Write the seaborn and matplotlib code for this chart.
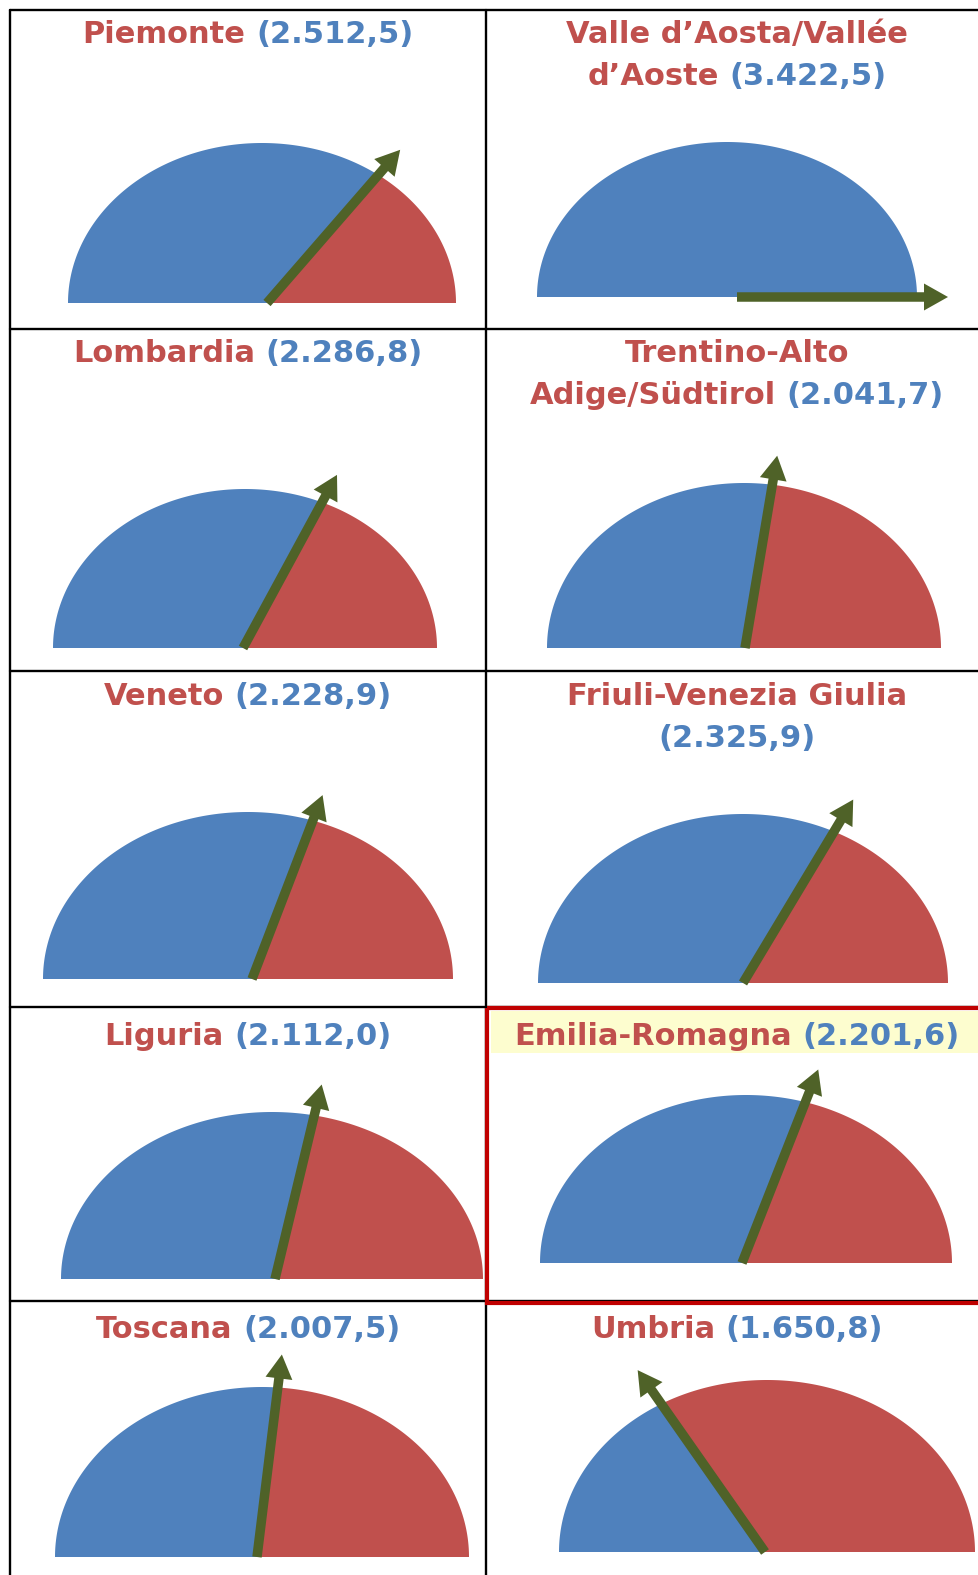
import numpy as np
import matplotlib
matplotlib.use("Agg")
import matplotlib.pyplot as plt
import seaborn as sns
from matplotlib.patches import Rectangle

# ---------- DATA ----------
regions = [
    "Piemonte", "Valle d’Aosta/Vallée\nd’Aoste",
    "Lombardia", "Trentino-Alto\nAdige/Südtirol",
    "Veneto", "Friuli-Venezia Giulia\n",
    "Liguria", "Emilia-Romagna",
    "Toscana", "Umbria",
]
values = [2512.5, 3422.5, 2286.8, 2041.7, 2228.9, 2325.9, 2112.0, 2201.6, 2007.5, 1650.8]
# needle direction (degrees, 0 = pointing right)
needle_deg = [49.0, 0.0, 61.5, 80.5, 69.0, 59.0, 76.5, 68.5, 83.0, 125.0]
highlight = "Emilia-Romagna"

# ---------- LAYOUT (pixels) ----------
W_PX, H_PX = 979, 1575
row_lines = [10, 329, 671, 1007, 1301]
col_lines = [10, 486]
col_center = [248, 737]
title_base = [43, 362, 705, 1045, 1338]
line_gap = 42
gauge_cx = [262, 727, 245, 744, 248, 743, 272, 746, 262, 767]
gauge_by = [303, 297, 648, 648, 979, 983, 1279, 1263, 1557, 1552]
gauge_rx = [194, 190, 192, 197, 205, 205, 211, 206, 207, 208]
gauge_ry = [160, 155, 159, 165, 167, 169, 167, 168, 170, 172]
needle_x = [267, 737, 243, 745, 252, 743, 275, 742, 257, 765]
needle_len = [203, 211, 197, 195, 197, 214, 200, 208, 204, 222]

BLUE = "#4F81BD"
RED = "#C0504D"
GREEN = "#4F6228"

sns.set_style("white")
plt.rcParams["font.family"] = ["DejaVu Sans"]


def fmt_it(v):
    s = f"{v:,.1f}"
    return s.replace(",", "X").replace(".", ",").replace("X", ".")


fig = plt.figure(figsize=(W_PX / 100, H_PX / 100), dpi=100)
ax = fig.add_axes([0, 0, 1, 1])
ax.set_xlim(0, W_PX)
ax.set_ylim(H_PX, 0)
ax.axis("off")
renderer = fig.canvas.get_renderer()
txt_kw = dict(fontsize=22, fontweight="bold", va="baseline")


def title_line(xc, y, red, blue):
    full = (red + " " + blue).strip()
    probe = ax.text(0, 0, full, **txt_kw)
    w = probe.get_window_extent(renderer).width
    probe.remove()
    x0 = xc - w / 2
    if red.strip():
        ax.text(x0, y, red, ha="left", color=RED, **txt_kw)
    if blue:
        ax.text(x0 + w, y, blue, ha="right", color=BLUE, **txt_kw)


for i, (name, val, deg) in enumerate(zip(regions, values, needle_deg)):
    row, col = divmod(i, 2)
    xc = col_center[col]

    if name == highlight:
        ax.add_patch(Rectangle((491, row_lines[row] + 4), W_PX - 491, 42,
                               color="#FDFDCF", lw=0, zorder=1))

    lines = name.split("\n")
    for k, ln in enumerate(lines):
        y = title_base[row] + k * line_gap
        blue = f"({fmt_it(val)})" if k == len(lines) - 1 else ""
        title_line(xc, y, ln, blue)

    # half ellipse split along the needle
    cx, by, rx, ry = gauge_cx[i], gauge_by[i], gauge_rx[i], gauge_ry[i]
    nx = needle_x[i]
    th = np.radians(deg)
    tt = np.linspace(0, np.pi, 2000)
    phi = np.arctan2(ry * np.sin(tt), cx + rx * np.cos(tt) - nx)
    t_split = np.interp(th, phi, tt)
    t_blue = np.linspace(t_split, np.pi, 200)
    t_red = np.linspace(0, t_split, 200)
    ax.fill(np.r_[nx, cx + rx * np.cos(t_blue)], np.r_[by, by - ry * np.sin(t_blue)],
            color=BLUE, lw=0, zorder=2)
    if t_split > 0:
        ax.fill(np.r_[nx, cx + rx * np.cos(t_red)], np.r_[by, by - ry * np.sin(t_red)],
                color=RED, lw=0, zorder=2)

    L = needle_len[i]
    ax.arrow(nx, by, L * np.cos(th), -L * np.sin(th),
             width=9.5, head_width=27, head_length=24, length_includes_head=True,
             fc=GREEN, ec=GREEN, lw=0, zorder=3)

# table grid
for y in row_lines:
    ax.plot([col_lines[0], W_PX], [y, y], color="black", lw=1.7, zorder=4)
for x in col_lines:
    ax.plot([x, x], [row_lines[0], H_PX], color="black", lw=1.7, zorder=4)

# red frame around the highlighted cell
hi = regions.index(highlight)
hr = hi // 2
ax.add_patch(Rectangle((col_lines[1] + 1, row_lines[hr] + 1), W_PX,
                       row_lines[hr + 1] - row_lines[hr] + 1,
                       fill=False, ec="#C00000", lw=3, zorder=5))

fig.savefig("out.png", dpi=100)
